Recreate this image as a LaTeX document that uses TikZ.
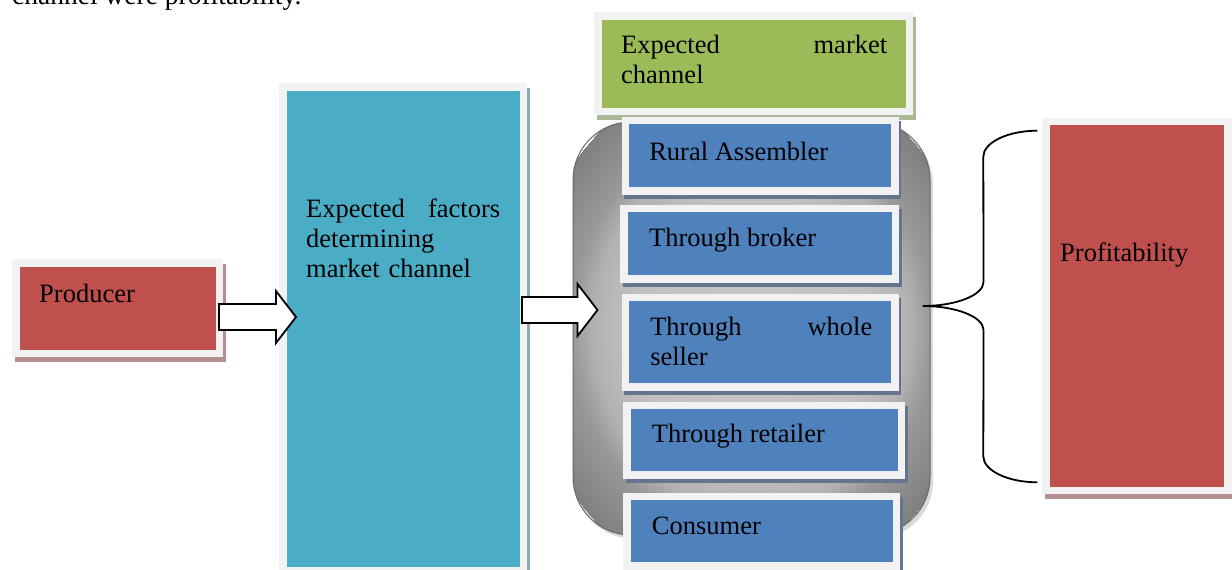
\documentclass[tikz,border=0pt]{standalone}
\usepackage{fontspec}
\setmainfont{Liberation Serif}
\usepackage{tikz}
\usetikzlibrary{calc,shadows}
\definecolor{framegray}{HTML}{F2F2F2}
\definecolor{prodred}{HTML}{C0504D}
\definecolor{factcyan}{HTML}{4BACC6}
\definecolor{chgreen}{HTML}{9BBB59}
\definecolor{stepblue}{HTML}{4F81BD}
\definecolor{redshade}{HTML}{B38F8F}
\definecolor{blueshade}{HTML}{65758F}
\definecolor{cyanshade}{HTML}{8CAAB9}
\definecolor{greenshade}{HTML}{AAB896}
\pgfdeclareradialshading{chanball}{\pgfpoint{0bp}{0bp}}{color(0bp)=(black!22); color(17bp)=(black!25); color(22bp)=(black!30); color(25bp)=(black!40); color(32bp)=(black!50)}

\newcommand{\fatarrow}[2]{%
  \draw[line width=1.8pt,fill=white,line join=miter]
    let \p1=(#1), \p2=(#2) in
    (\x1,{\y1+13pt}) -- ({\x2-20pt},{\y1+13pt}) -- ({\x2-20pt},{\y1+26pt})
    -- (\x2,\y1) -- ({\x2-20pt},{\y1-26pt}) -- ({\x2-20pt},{\y1-13pt})
    -- (\x1,{\y1-13pt}) -- cycle;}

\tikzset{
  box/.style={fill=framegray, inner sep=0pt, outer sep=0pt,
    path picture={\fill[#1] ([shift={(7.5pt,7.5pt)}]path picture bounding box.south west)
      rectangle ([shift={(-7.5pt,-7.5pt)}]path picture bounding box.north east);}},
  boxshadow/.style={drop shadow={fill=#1, opacity=1, shadow xshift=2.5pt, shadow yshift=-4.5pt}},
  txt/.style={inner sep=0pt, font=\fontsize{26.5}{30}\selectfont},
  bracepen/.style={line width=1.8pt},
}

\begin{document}
\begin{tikzpicture}[x=1pt,y=-1pt]
  \useasboundingbox (0,0) rectangle (1232,570);
  \node[txt, font=\fontsize{27.5}{30}\selectfont, anchor=base west] (intro) at (12,5) {channel were profitability.};

  \node[box=prodred, boxshadow=redshade, minimum width=211pt, minimum height=98pt] (producer) at (117.5,308) {};
  \node[txt, anchor=base west] (producer-t) at ([shift={(27,43)}]producer.north west) {Producer};

  \node[box=factcyan, boxshadow=cyanshade, minimum width=248pt, minimum height=491pt] (factors) at (403,328.5) {};
  \node[txt, anchor=north west, text width=194pt, align=left] (factors-t) at ([shift={(27,115.7)}]factors.north west)
    {Expected\hfill factors\\determining\\market channel};

  \node[draw=black!60, line width=1pt, rounded corners=58pt, shade, shading=chanball,
    minimum width=357pt, minimum height=413pt,
    drop shadow={opacity=.3, shadow xshift=3pt, shadow yshift=-4pt}] (channels) at (751.5,328.5) {};

  \node[box=chgreen, boxshadow=greenshade, minimum width=319pt, minimum height=103pt] (header) at (753.5,63.5) {};
  \node[txt, anchor=north west, text width=266pt, align=left] (header-t) at ([shift={(27,23.3)}]header.north west)
    {Expected\hfill market\\channel};

  \node[box=stepblue, boxshadow=blueshade, minimum width=277pt, minimum height=78pt] (rural) at (760.3,155.8) {};
  \node[txt, anchor=base west] (rural-t) at ([shift={(27.3,43.3)}]rural.north west) {Rural Assembler};

  \node[box=stepblue, boxshadow=blueshade, minimum width=279pt, minimum height=78pt] (broker) at (759.5,243.8) {};
  \node[txt, anchor=base west] (broker-t) at ([shift={(29,41.7)}]broker.north west) {Through broker};

  \node[box=stepblue, boxshadow=blueshade, minimum width=277pt, minimum height=97pt] (whole) at (760.3,342.3) {};
  \node[txt, anchor=north west, text width=222pt, align=left] (whole-t) at ([shift={(28.3,23)}]whole.north west)
    {Through\hfill whole\\seller};

  \node[box=stepblue, boxshadow=blueshade, minimum width=282pt, minimum height=77pt] (retailer) at (764,440) {};
  \node[txt, anchor=base west] (retailer-t) at ([shift={(28.7,41)}]retailer.north west) {Through retailer};

  \node[box=stepblue, boxshadow=blueshade, minimum width=277pt, minimum height=77pt] (consumer) at (761.5,531.2) {};
  \node[txt, anchor=base west] (consumer-t) at ([shift={(28.7,41.3)}]consumer.north west) {Consumer};

  \node[box=prodred, boxshadow=redshade, minimum width=189.4pt, minimum height=376.6pt] (profit) at (1137,306) {};
  \node[txt, anchor=base west] (profit-t) at ([shift={(17.7,143.3)}]profit.north west) {Profitability};

  \fatarrow{[shift={(-4,9)}]producer.east}{[xshift=17pt]factors.west}
  \fatarrow{[shift={(-5,-18.5)}]factors.east}{[xshift=25pt]channels.west}

  \coordinate (btop) at ([shift={(-5,13)}]profit.north west);
  \coordinate (bbot) at ([shift={(-5,-12)}]profit.south west);
  \coordinate (btip) at ([shift={(-8,-22.5)}]channels.east);
  \draw[bracepen] (btop) .. controls ($(btop)+(-30,0)$) and ($(btop)+(-54,12)$) .. ($(btop)+(-54,26)$)
    -- ($(btip)+(61,-24)$) .. controls ($(btip)+(61,-11)$) and ($(btip)+(34,0)$) .. (btip)
    .. controls ($(btip)+(34,0)$) and ($(btip)+(61,11)$) .. ($(btip)+(61,24)$)
    -- ($(bbot)+(-54,-26)$) .. controls ($(bbot)+(-54,-12)$) and ($(bbot)+(-30,0)$) .. (bbot);
\end{tikzpicture}
\end{document}
